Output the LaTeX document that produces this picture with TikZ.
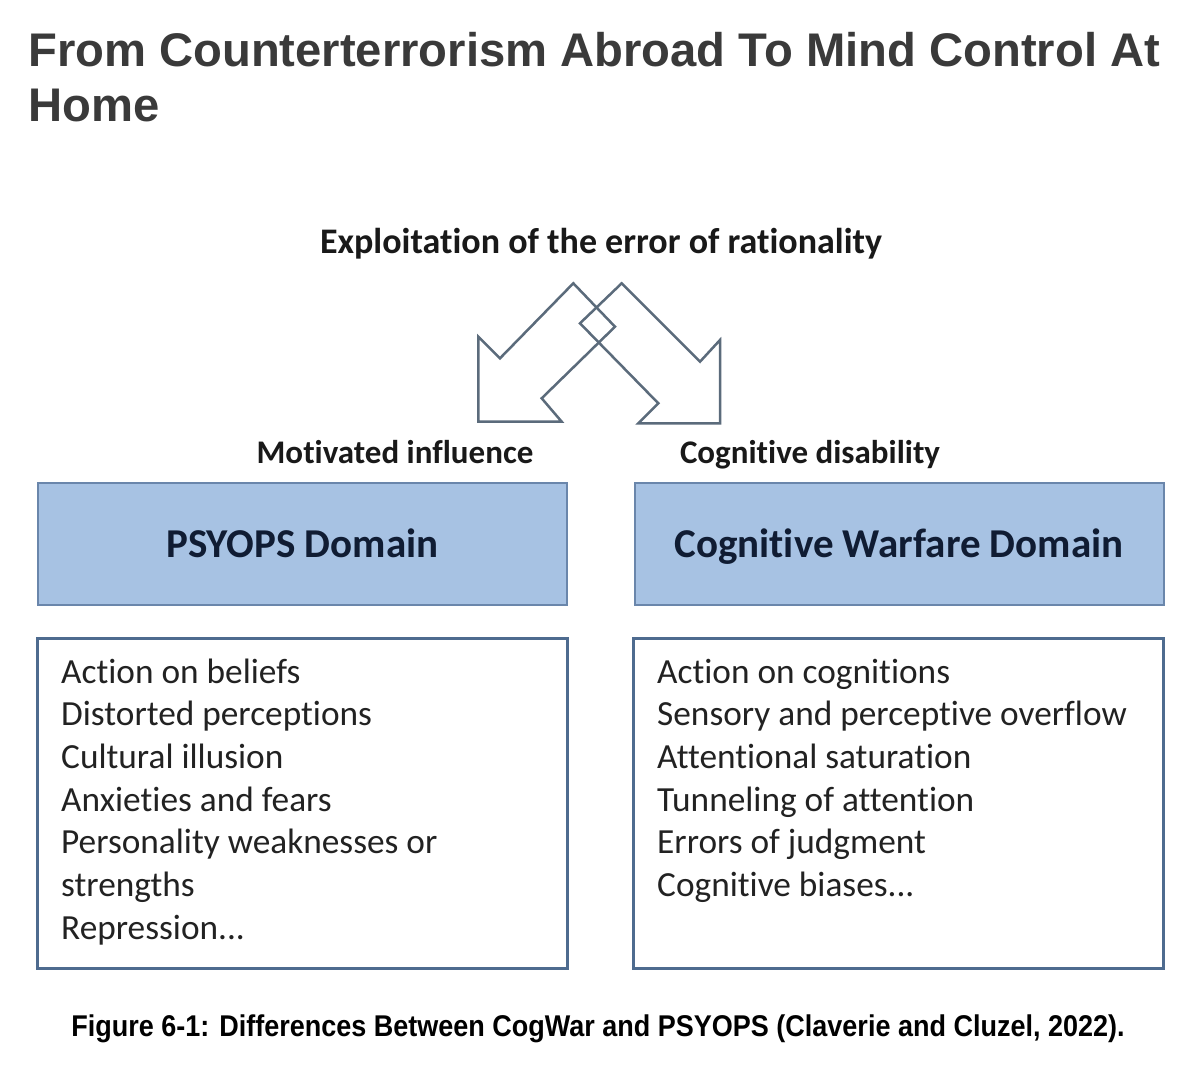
\documentclass[tikz,border=0pt]{standalone}
\usepackage{fontspec}
\setmainfont{Carlito}[Ligatures={NoCommon}]
\newfontfamily\titlefont{Liberation Sans}
\newfontfamily\capfont[FakeStretch=0.9]{Liberation Sans}
\newcommand\myellip{...}
\definecolor{titlegray}{HTML}{3A3A3A}
\definecolor{bluefill}{HTML}{A7C2E3}
\definecolor{blueedge}{HTML}{6A86AB}
\definecolor{boxedge}{HTML}{4E6B8F}
\definecolor{arrowgray}{HTML}{5B6B7B}
\definecolor{navytext}{HTML}{101C33}
\definecolor{itemtext}{HTML}{222222}
\begin{document}
\begin{tikzpicture}[x=1pt,y=-1pt,
  titletext/.style={anchor=base west,inner sep=0pt,text=titlegray,font=\titlefont\bfseries\fontsize{47.2}{56}\selectfont},
  labeltext/.style={anchor=base,inner sep=0pt,text=black!90,font=\bfseries\fontsize{33}{40}\selectfont},
  domainbox/.style={draw=blueedge,line width=2pt,fill=bluefill,minimum width=529pt,minimum height=122pt,inner sep=0pt},
  domaintext/.style={anchor=base,inner sep=0pt,text=navytext,font=\bfseries\fontsize{41}{49}\selectfont},
  listbox/.style={draw=boxedge,line width=3pt,fill=white,minimum width=530pt,minimum height=330pt,inner sep=0pt},
  itemline/.style={anchor=base west,inner sep=0pt,text=itemtext,font=\fontsize{35.3}{43}\selectfont},
  bigarrow/.style={draw=arrowgray,line width=2.5pt,line join=miter}
]
\useasboundingbox (0,0) rectangle (1200,1078);
\fill[white] (0,0) rectangle (1200,1078);

% title
\node[titletext] (t1) at (28,67) {From Counterterrorism Abroad To Mind Control At};
\node[titletext] (t2) at (28,122) {Home};

% top label
\node[labeltext,font=\bfseries\fontsize{36}{43}\selectfont] (expl) at (601,254) {Exploitation of the error of rationality};

% crossing arrows
\draw[bigarrow] (573.3,283.3) -- (615,326.7) -- (541.7,398.3) -- (561.7,421.7)
  -- (478.3,421.7) -- (478.3,336.7) -- (500,358.3) -- cycle;
\draw[bigarrow] (621.7,283.3) -- (700,361.7) -- (720,340) -- (720,423.3)
  -- (638.3,423.3) -- (658.3,403.3) -- (580,323.3) -- cycle;

% side labels
\node[labeltext] (mot) at (395,463) {Motivated influence};
\node[labeltext] (cog) at (810,463) {Cognitive disability};

% domain boxes
\node[domainbox] (psy) at (302.5,544) {};
\node[domaintext] (psyt) at (302.5,557) {PSYOPS Domain};
\node[domainbox] (cwd) at (899,544) {};
\node[domaintext] (cwdt) at (899,557) {Cognitive Warfare Domain};

% list boxes
\node[listbox] (lbox) at (302,803) {};
\node[listbox] (rbox) at (898,803) {};

\foreach \t [count=\i from 0] in {Action on beliefs,Distorted perceptions,Cultural illusion,Anxieties and fears,Personality weaknesses or,strengths,Repression\myellip}
  \node[itemline] (l\i) at (61,683+42.7*\i) {\t};

\foreach \t [count=\i from 0] in {Action on cognitions,Sensory and perceptive overflow,Attentional saturation,Tunneling of attention,Errors of judgment,Cognitive biases\myellip}
  \node[itemline] (r\i) at (657,683+42.7*\i) {\t};

% caption
\node[anchor=base,inner sep=0pt,font=\capfont\bfseries\fontsize{30}{36}\selectfont] (cap) at (598,1036)
  {Figure 6-1: Differences Between CogWar and PSYOPS (Claverie and Cluzel, 2022).};
\end{tikzpicture}
\end{document}
